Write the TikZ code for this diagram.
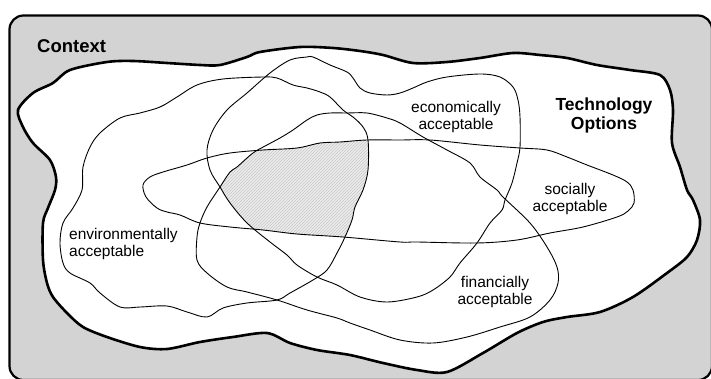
\documentclass[tikz,border=0pt]{standalone}
\usepackage{fontspec}
\setmainfont{Liberation Sans}
\usetikzlibrary{patterns}
\definecolor{ctxgray}{RGB}{211,211,211}
\begin{document}
\begin{tikzpicture}[x=1pt,y=-1pt,
  setline/.style={line width=0.9pt,line join=round},
  lbl/.style={inner sep=0pt,font=\fontsize{15.5}{17}\selectfont},
  boldlbl/.style={inner sep=0pt,font=\fontsize{17.5}{19}\selectfont\bfseries}]
\useasboundingbox (0,0) rectangle (711,379);
\clip (0,0) rectangle (711,379);
\def\techpath{plot[smooth cycle,tension=0.5] coordinates{(18,110) (33,93) (53,83) (70,70) (107,62) (133,61) (167,63) (200,65) (220,65) (247,57) (260,52) (300,47) (333,48) (360,51) (383,55) (413,63) (447,62) (480,58) (513,53) (540,55) (567,58) (597,65) (630,70) (660,75) (670,90) (673,110) (672,143) (680,167) (687,190) (693,200) (700,220) (697,240) (687,257) (667,273) (633,297) (600,312) (567,317) (543,322) (517,333) (483,353) (447,372) (417,370) (383,363) (350,355) (317,350) (290,343) (267,333) (233,337) (200,342) (167,349) (140,347) (107,337) (83,327) (67,313) (53,297) (47,283) (43,260) (43,223) (48,208) (55,190) (56,177) (50,160) (33,143) (23,127)}}
\def\envpath{plot[smooth cycle,tension=0.55] coordinates{(82,190) (83,167) (90,147) (100,133) (120,118) (140,113) (160,107) (177,97) (197,85) (223,79) (263,77) (277,78) (293,85) (307,88) (320,92) (330,97) (343,110) (353,117) (363,127) (368,140) (368,170) (363,190) (355,207) (352,220) (345,237) (337,253) (327,270) (313,280) (290,293) (277,300) (247,303) (223,308) (207,317) (187,312) (167,306) (140,307) (120,307) (100,293) (90,283) (70,273) (63,263) (60,243) (63,223) (73,208)}}
\def\econpath{plot[smooth cycle,tension=0.55] coordinates{(307,57) (290,60) (270,73) (247,93) (227,110) (213,130) (207,150) (210,170) (220,187) (230,203) (247,223) (270,242) (287,255) (297,265) (317,277) (337,285) (360,297) (387,302) (417,297) (433,290) (450,277) (460,263) (477,243) (490,223) (502,210) (505,200) (512,183) (517,163) (520,147) (520,117) (518,100) (513,87) (500,77) (480,74) (447,77) (427,82) (413,88) (400,93) (387,95) (370,93) (360,88) (353,78) (347,72) (330,65) (313,57)}}
\def\socpath{plot[smooth cycle,tension=0.55] coordinates{(143,185) (150,177) (163,172) (187,165) (207,158) (230,153) (263,150) (297,148) (320,143) (340,142) (367,140) (400,140) (430,140) (480,145) (520,148) (547,150) (567,157) (587,165) (613,175) (627,182) (633,190) (634,203) (628,211) (617,217) (583,227) (550,233) (517,240) (477,243) (417,242) (400,242) (343,237) (297,234) (263,230) (230,227) (200,223) (180,215) (167,212) (157,208) (146,197)}}
\def\finpath{plot[smooth cycle,tension=0.55] coordinates{(220,187) (230,172) (237,167) (253,153) (267,145) (280,138) (293,130) (307,120) (317,115) (330,113) (347,113) (367,113) (387,118) (400,123) (423,137) (447,150) (470,163) (480,177) (497,190) (503,197) (530,223) (547,247) (557,267) (558,283) (550,300) (530,317) (500,327) (467,337) (433,343) (400,340) (370,330) (350,323) (337,318) (307,310) (277,300) (247,292) (227,287) (207,273) (197,260) (197,237) (200,223) (207,207)}}
% context frame
\draw[line width=2.2pt,fill=ctxgray,rounded corners=14pt] (9.5,15.5) rectangle (712,380);
% technology options
\draw[line width=2.6pt,fill=white,line join=round] \techpath;
% shaded intersection
\begin{scope}
  \clip \envpath;
  \clip \econpath;
  \clip \socpath;
  \clip \finpath;
  \fill[gray!14] (0,0) rectangle (711,379);
  \fill[pattern=north east lines,pattern color=gray!45] (0,0) rectangle (711,379);
\end{scope}
% sets
\draw[setline] \envpath;
\draw[setline] \econpath;
\draw[setline] \socpath;
\draw[setline] \finpath;
% labels
\node[boldlbl,font=\fontsize{18.5}{20}\selectfont\bfseries,anchor=base west] (ctx) at (37,52.7) {Context};
\node[boldlbl,align=center] (tech) at (604,115) {Technology\\Options};
\node[lbl,align=center] (econ) at (456,116.5) {economically\\acceptable};
\node[lbl,align=center] (soc) at (570,199) {socially\\acceptable};
\node[lbl,align=center] (fin) at (495,291.5) {financially\\acceptable};
\node[lbl,align=left,anchor=west] (env) at (69,244.3) {environmentally\\acceptable};
\end{tikzpicture}
\end{document}
